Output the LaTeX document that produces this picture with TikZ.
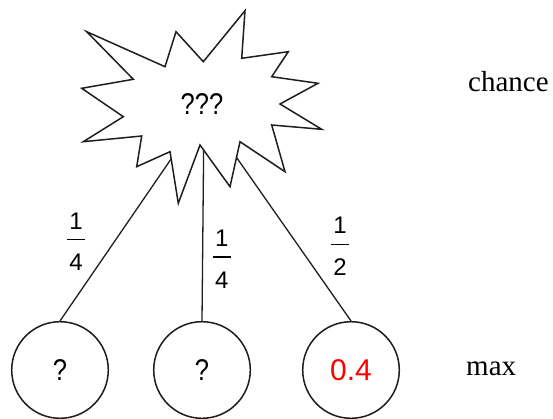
\documentclass[tikz,border=0pt]{standalone}
\usepackage{fontspec}
\setmainfont{Liberation Serif}
\newfontfamily\lsans[FakeStretch=0.85]{Liberation Sans}
\newfontfamily\fsans{Liberation Sans}
\definecolor{linegray}{RGB}{30,30,30}
\newcommand\myfr[2]{\vbox{\hbox to 18pt{\hss#1\hss}\vskip 10pt\hrule height 1.2pt\vskip 14pt\hbox to 18pt{\hss#2\hss}}}
\tikzset{
  maxnode/.style={circle, draw=linegray, line width=1.5pt, minimum size=96.6pt, inner sep=0pt, fill=white,
    font=\fsans\fontsize{30}{34}\selectfont},
  conn/.style={draw=linegray, line width=1.3pt},
  starline/.style={draw=linegray, line width=1.5pt, fill=white, line join=miter},
  fraclabel/.style={inner sep=0pt, font=\fsans\fontsize{24}{28}\selectfont},
  sidelabel/.style={anchor=base west, inner sep=0pt, font=\fontsize{29}{34}\selectfont},
}
\begin{document}
\begin{tikzpicture}[x=1pt,y=-1pt]
\useasboundingbox (0,0) rectangle (553,419);
\coordinate (hub) at (204,111);
\node[maxnode] (c1) at (60,370) {\lsans ?};
\node[maxnode] (c2) at (202,370) {\lsans ?};
\node[maxnode, text=red] (c3) at (351,370) {0.4};
\draw[conn] (hub) -- (c1.north);
\draw[conn] (hub) -- (c2.north);
\draw[conn] (hub) -- (c3.north);
\draw[starline] (86.7,31.7) -- (165,66.7) -- (176,31.7) -- (203.3,61.7) -- (245,10.7)
  -- (241.7,58.3) -- (288.3,51.7) -- (271.7,76.7) -- (318,83.3) -- (280,104)
  -- (321.7,129.3) -- (271.7,125) -- (285,171.7) -- (240,141.7) -- (230,186.7)
  -- (200,145) -- (178.3,203.3) -- (170,151.7) -- (136.7,166.7) -- (141.7,136)
  -- (83.3,141.7) -- (123.3,116.7) -- (81.7,88.3) -- (133.3,79.3) -- cycle;
\node[inner sep=0pt, font=\lsans\fontsize{30}{34}\selectfont] (q) at (202,104) {???};
\node[fraclabel] (f1) at (76,241.7) {\myfr{1}{4}};
\node[fraclabel] (f2) at (221.7,259) {\myfr{1}{4}};
\node[fraclabel] (f3) at (340,246.7) {\myfr{1}{2}};
\node[sidelabel] (chance) at (468,91.7) {chance};
\node[sidelabel] (max) at (466,375) {max};
\end{tikzpicture}
\end{document}
